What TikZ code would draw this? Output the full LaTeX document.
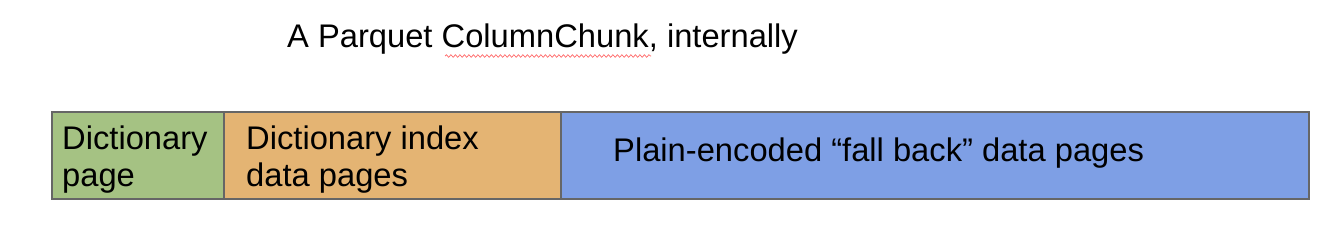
\documentclass[tikz,border=0pt]{standalone}
\usepackage{fontspec}
\setmainfont{Liberation Sans}
\usetikzlibrary{decorations.pathmorphing}
\definecolor{dictgreen}{HTML}{A5C283}
\definecolor{idxorange}{HTML}{E4B473}
\definecolor{plainblue}{HTML}{7E9FE5}
\definecolor{edgegray}{HTML}{666666}
\tikzset{
  seg/.style={draw=edgegray, line width=1.5pt, inner sep=0pt, outer sep=0pt, anchor=north west, minimum height=87pt},
  lbl/.style={inner sep=0pt, anchor=base west, font=\fontsize{32.7}{37}\selectfont, align=left},
}
\begin{document}
\begin{tikzpicture}[x=1pt,y=-1pt]
\useasboundingbox (0,0) rectangle (1338,234);
\node[seg, fill=dictgreen, minimum width=172pt] (dict) at (52,112) {};
\node[seg, fill=idxorange, minimum width=337pt] (idx) at (224,112) {};
\node[seg, fill=plainblue, minimum width=748pt] (plain) at (561,112) {};
\node[lbl] (title) at (287,47) {A Parquet ColumnChunk, internally};
\node[lbl] (t1) at (62,149) {Dictionary};
\node[lbl] (t1b) at (62,186) {page};
\node[lbl] (t2) at (246,149) {Dictionary index};
\node[lbl] (t2b) at (246,186) {data pages};
\node[lbl] (t3) at (613,161) {Plain-encoded “fall back” data pages};
\coordinate (sqA) at (445,56);
\coordinate (sqB) at (651,56);
\draw[red!60, line width=0.7pt, decorate, decoration={snake, amplitude=1.3pt, segment length=4.5pt}] (sqA) -- (sqB);
\end{tikzpicture}
\end{document}
